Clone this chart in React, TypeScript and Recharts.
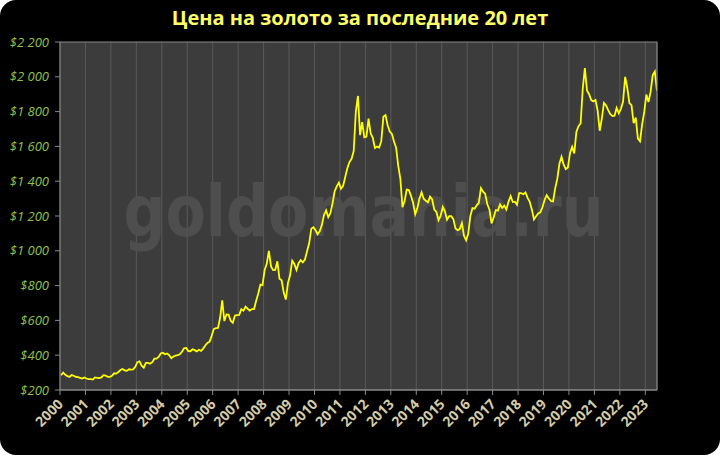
import React from 'react';
import { LineChart, Line, XAxis, YAxis, CartesianGrid, ReferenceArea } from 'recharts';

// monthly gold price, USD/oz, Jan 2000 .. Jun 2023
const prices2000 = [285, 300, 287, 280, 275, 286, 282, 275, 274, 270, 266, 272];
const prices2001 = [266, 262, 263, 260, 272, 270, 268, 272, 285, 283, 276, 276];
const prices2002 = [282, 296, 294, 303, 315, 321, 313, 310, 319, 317, 319, 333];
const prices2003 = [360, 365, 340, 328, 356, 356, 351, 360, 380, 380, 390, 410];
const prices2004 = [414, 405, 410, 400, 383, 392, 398, 400, 405, 420, 440, 442];
const prices2005 = [424, 423, 434, 429, 422, 431, 425, 438, 456, 470, 477, 510];
const prices2006 = [550, 555, 557, 615, 715, 596, 634, 633, 598, 586, 628, 630];
const prices2007 = [631, 665, 656, 679, 667, 656, 665, 665, 713, 755, 806, 803];
const prices2008 = [890, 925, 1000, 910, 889, 890, 940, 839, 830, 760, 720, 816];
const prices2009 = [859, 943, 924, 890, 929, 946, 934, 950, 997, 1043, 1127, 1135];
const prices2010 = [1118, 1095, 1113, 1149, 1205, 1233, 1193, 1216, 1271, 1342, 1370, 1391];
const prices2011 = [1356, 1373, 1424, 1474, 1510, 1529, 1573, 1800, 1890, 1665, 1739, 1652];
const prices2012 = [1656, 1760, 1674, 1650, 1591, 1599, 1594, 1630, 1770, 1780, 1722, 1685];
const prices2013 = [1672, 1628, 1593, 1488, 1414, 1250, 1286, 1352, 1349, 1317, 1276, 1210];
const prices2014 = [1244, 1300, 1336, 1299, 1288, 1279, 1311, 1295, 1237, 1223, 1176, 1201];
const prices2015 = [1252, 1227, 1179, 1199, 1199, 1182, 1128, 1118, 1125, 1159, 1086, 1060];
const prices2016 = [1098, 1200, 1245, 1242, 1261, 1276, 1360, 1340, 1327, 1267, 1238, 1157];
const prices2017 = [1192, 1234, 1231, 1267, 1246, 1260, 1237, 1283, 1314, 1280, 1282, 1265];
const prices2018 = [1331, 1331, 1325, 1335, 1304, 1282, 1238, 1180, 1198, 1215, 1221, 1250];
const prices2019 = [1292, 1320, 1301, 1286, 1284, 1359, 1413, 1500, 1540, 1495, 1470, 1479];
const prices2020 = [1561, 1597, 1560, 1683, 1716, 1732, 1930, 2050, 1922, 1900, 1866, 1858];
const prices2021 = [1867, 1808, 1690, 1760, 1850, 1835, 1808, 1785, 1775, 1777, 1821, 1790];
const prices2022 = [1816, 1856, 2000, 1937, 1849, 1837, 1733, 1765, 1645, 1630, 1725, 1798];
const prices2023 = [1898, 1855, 1913, 2010, 2030, 1920];

const monthlyPrices = [
  ...prices2000, ...prices2001, ...prices2002, ...prices2003, ...prices2004, ...prices2005,
  ...prices2006, ...prices2007, ...prices2008, ...prices2009, ...prices2010, ...prices2011,
  ...prices2012, ...prices2013, ...prices2014, ...prices2015, ...prices2016, ...prices2017,
  ...prices2018, ...prices2019, ...prices2020, ...prices2021, ...prices2022, ...prices2023,
];

const yearTicks = [
  2000, 2001, 2002, 2003, 2004, 2005, 2006, 2007, 2008, 2009, 2010, 2011,
  2012, 2013, 2014, 2015, 2016, 2017, 2018, 2019, 2020, 2021, 2022, 2023,
];
const priceTicks = [200, 400, 600, 800, 1000, 1200, 1400, 1600, 1800, 2000, 2200];

const data = monthlyPrices.map((price, i) => ({ t: 2000 + (i + 0.5) / 12, price }));

const fmtPrice = (v: number) =>
  v >= 1000 ? `$${Math.floor(v / 1000)} ${String(v % 1000).padStart(3, '0')}` : `$${v}`;

const renderYearTick = (props: any) => {
  const { x, y, payload } = props;
  const ax = x + 4;
  const ay = y + 8;
  return (
    <text
      key={payload.value}
      x={ax}
      y={ay}
      transform={`rotate(-45, ${ax}, ${ay})`}
      textAnchor="end"
      fill="#d4cca8"
      fontSize={14}
      fontWeight="bold"
      fontFamily="'Open Sans', sans-serif"
    >
      {payload.value}
    </text>
  );
};

const Watermark = ({ viewBox }: any) => {
  const cx = viewBox.x + viewBox.width / 2;
  const cy = viewBox.y + viewBox.height / 2;
  return (
    <text
      x={cx + 5}
      y={cy + 20}
      textAnchor="middle"
      fill="#4e4e4e"
      fontSize={72}
      fontWeight="bold"
      fontFamily="Verdana, 'DejaVu Sans', sans-serif"
      textLength={480}
      lengthAdjust="spacingAndGlyphs"
    >
      goldomania.ru
    </text>
  );
};

const tickStyle = { fill: '#8fc24a', fontSize: 13, fontStyle: 'italic', fontFamily: "'Open Sans', sans-serif" };

export default function App() {
  return (
    <div style={{ position: 'absolute', top: 0, left: 0, width: 720, height: 455, background: '#fff' }}>
      <div style={{ position: 'absolute', inset: 0, background: '#000', borderRadius: 16 }} />
      <div
        style={{
          position: 'absolute', top: 4, left: 0, width: 720, textAlign: 'center',
          color: '#ffff66', fontFamily: "'Open Sans', sans-serif", fontWeight: 'bold', fontSize: 20,
        }}
      >
        Цена на золото за последние 20 лет
      </div>
      <div style={{ position: 'absolute', top: 0, left: 0 }}>
        <LineChart width={720} height={455} data={data} margin={{ top: 42, right: 0, bottom: 0, left: 0 }}>
          <CartesianGrid horizontal={false} stroke="#5a5a5a" fill="#3c3c3c" />
          <CartesianGrid vertical={false} stroke="#8a8a8a" />
          <XAxis
            dataKey="t"
            type="number"
            domain={[2000, 2023.46]}
            ticks={yearTicks}
            interval={0}
            height={65}
            stroke="#8a8a8a"
            tickSize={5}
            tick={renderYearTick}
            allowDataOverflow
          />
          <YAxis
            yAxisId="left"
            domain={[200, 2200]}
            ticks={priceTicks}
            width={60}
            stroke="#8a8a8a"
            tickSize={5}
            tickMargin={6}
            tick={tickStyle}
            tickFormatter={fmtPrice}
          />
          <YAxis
            yAxisId="right"
            orientation="right"
            domain={[200, 2200]}
            ticks={priceTicks}
            width={63}
            stroke="#8a8a8a"
            tickSize={5}
            tickMargin={8}
            tick={tickStyle}
            tickFormatter={fmtPrice}
          />
          <ReferenceArea
            yAxisId="left"
            x1={2000}
            x2={2023.46}
            y1={200}
            y2={2200}
            fill="none"
            stroke="none"
            label={<Watermark />}
          />
          <Line
            yAxisId="left"
            dataKey="price"
            stroke="#ffff00"
            strokeWidth={1.8}
            dot={false}
            type="linear"
            isAnimationActive={false}
          />
        </LineChart>
      </div>
    </div>
  );
}
